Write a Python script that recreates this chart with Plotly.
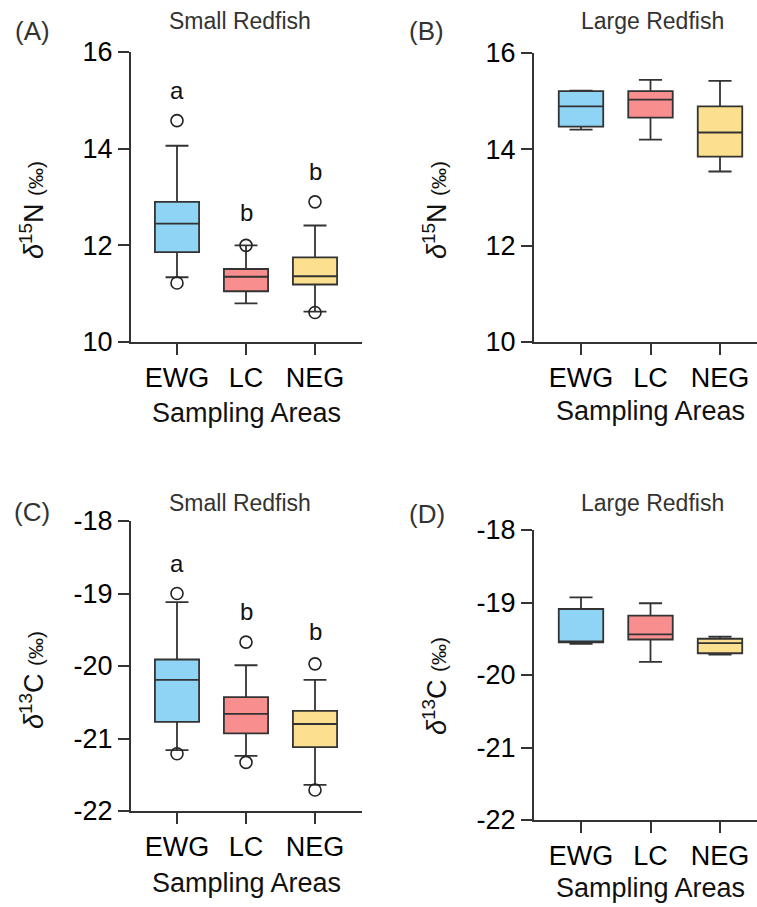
import plotly.graph_objects as go

areas = ["EWG", "LC", "NEG"]
colors = ["#8FD4F4", "#F98E8E", "#FDE08F"]

# Panel A: small redfish d15N
A_q1 = [11.86, 11.05, 11.19]
A_med = [12.45, 11.35, 11.36]
A_q3 = [12.90, 11.51, 11.75]
A_lo = [11.34, 10.80, 10.63]
A_hi = [14.06, 12.00, 12.41]
A_out_x = [0, 0, 1, 2, 2]
A_out_y = [14.58, 11.22, 12.00, 12.90, 10.61]
A_letters = ["a", "b", "b"]
A_letter_y = [15.2, 12.67, 13.52]

# Panel B: large redfish d15N
B_q1 = [14.47, 14.66, 13.85]
B_med = [14.89, 15.03, 14.35]
B_q3 = [15.21, 15.21, 14.89]
B_lo = [14.41, 14.20, 13.54]
B_hi = [15.22, 15.44, 15.42]

# Panel C: small redfish d13C
C_q1 = [-20.77, -20.93, -21.12]
C_med = [-20.19, -20.66, -20.80]
C_q3 = [-19.91, -20.43, -20.62]
C_lo = [-21.16, -21.24, -21.64]
C_hi = [-19.12, -19.99, -20.19]
C_out_x = [0, 0, 1, 1, 2, 2]
C_out_y = [-19.00, -21.21, -19.67, -21.33, -19.97, -21.71]
C_letters = ["a", "b", "b"]
C_letter_y = [-18.59, -19.25, -19.52]

# Panel D: large redfish d13C
D_q1 = [-19.55, -19.51, -19.70]
D_med = [-19.55, -19.44, -19.56]
D_q3 = [-19.09, -19.18, -19.50]
D_lo = [-19.57, -19.82, -19.72]
D_hi = [-18.93, -19.01, -19.47]

N_ticks = [10, 12, 14, 16]
C_ticks = [-22, -21, -20, -19, -18]
N_ticktext = ["10", "12", "14", "16"]
C_ticktext = ["-22", "-21", "-20", "-19", "-18"]

W, H = 757, 907
def px(x):
    return x / W
def py(y):
    return 1 - y / H

FONT = "Liberation Sans, Arial, sans-serif"
LINE = "#333333"

fig = go.Figure()

panels = [
    (A_q1, A_med, A_q3, A_lo, A_hi, A_out_x, A_out_y, "x", "y"),
    (B_q1, B_med, B_q3, B_lo, B_hi, [], [], "x2", "y2"),
    (C_q1, C_med, C_q3, C_lo, C_hi, C_out_x, C_out_y, "x3", "y3"),
    (D_q1, D_med, D_q3, D_lo, D_hi, [], [], "x4", "y4"),
]

for q1, med, q3, lo, hi, ox, oy, xa, ya in panels:
    for i in range(3):
        fig.add_trace(go.Box(
            x=[i], q1=[q1[i]], median=[med[i]], q3=[q3[i]],
            lowerfence=[lo[i]], upperfence=[hi[i]],
            width=0.64, whiskerwidth=0.52, fillcolor=colors[i],
            line=dict(color=LINE, width=1.8), boxpoints=False,
            xaxis=xa, yaxis=ya, showlegend=False, hoverinfo="skip"))
    if ox:
        fig.add_trace(go.Scatter(
            x=ox, y=oy, mode="markers",
            marker=dict(symbol="circle-open", size=12, color="#222222",
                        line=dict(width=1.6)),
            xaxis=xa, yaxis=ya, showlegend=False, hoverinfo="skip"))

axis_common = dict(showline=True, linecolor=LINE, linewidth=2, ticks="outside",
                   ticklen=11, tickwidth=2, tickcolor=LINE, showgrid=False,
                   zeroline=False, automargin=False,
                   tickfont=dict(family=FONT, size=27, color="#000000"))

xA = [px(131), px(362)]
xB = [px(534), px(757)]
rA = [-(177 - 131) / 69.0, (362 - 177) / 69.0]
rB = [-(581 - 534) / 69.5, (757 - 581) / 69.5]

fig.update_layout(
    width=W, height=H, margin=dict(l=0, r=0, t=0, b=0, autoexpand=False),
    paper_bgcolor="white", plot_bgcolor="white",
    xaxis=dict(domain=xA, range=rA, tickvals=[0, 1, 2], ticktext=areas, anchor="y", **axis_common),
    yaxis=dict(domain=[py(342), py(52)], range=[10, 16], tickvals=N_ticks, ticktext=N_ticktext, anchor="x", **axis_common),
    xaxis2=dict(domain=xB, range=rB, tickvals=[0, 1, 2], ticktext=areas, anchor="y2", **axis_common),
    yaxis2=dict(domain=[py(342), py(53)], range=[10, 16], tickvals=N_ticks, ticktext=N_ticktext, anchor="x2", **axis_common),
    xaxis3=dict(domain=xA, range=rA, tickvals=[0, 1, 2], ticktext=areas, anchor="y3", **axis_common),
    yaxis3=dict(domain=[py(811), py(521)], range=[-22, -18], tickvals=C_ticks, ticktext=C_ticktext, anchor="x3", **axis_common),
    xaxis4=dict(domain=xB, range=rB, tickvals=[0, 1, 2], ticktext=areas, anchor="y4", **axis_common),
    yaxis4=dict(domain=[py(820), py(530)], range=[-22, -18], tickvals=C_ticks, ticktext=C_ticktext, anchor="x4", **axis_common),
)

ann = []
def text(x, y, s, size, color="#222222", angle=0):
    ann.append(dict(x=px(x), y=py(y), xref="paper", yref="paper", text=s, showarrow=False,
                    font=dict(family=FONT, size=size, color=color), textangle=angle,
                    xanchor="center", yanchor="middle"))

text(32, 31, "(A)", 26, "#333333")
text(426, 31, "(B)", 26, "#333333")
text(32, 512, "(C)", 26, "#333333")
text(427, 514, "(D)", 26, "#333333")
text(240, 21, "Small Redfish", 23, "#333333")
text(652, 21, "Large Redfish", 23, "#333333")
text(240, 503, "Small Redfish", 23, "#333333")
text(652, 503, "Large Redfish", 23, "#333333")
text(246, 413, "Sampling Areas", 27, "#111111")
text(650, 411, "Sampling Areas", 27, "#111111")
text(246, 883, "Sampling Areas", 27, "#111111")
text(650, 888, "Sampling Areas", 27, "#111111")

tN = "<i>δ</i><sup>15</sup>N <span style='font-size:21px'>(‰)</span>"
tC = "<i>δ</i><sup>13</sup>C <span style='font-size:21px'>(‰)</span>"
text(32, 210, tN, 27, "#111111", -90)
text(435, 210, tN, 27, "#111111", -90)
text(32, 680, tC, 27, "#111111", -90)
text(435, 686, tC, 27, "#111111", -90)

for i in range(3):
    ann.append(dict(x=i, y=A_letter_y[i], xref="x", yref="y", text=A_letters[i], showarrow=False,
                    font=dict(family=FONT, size=24, color="#111111")))
    ann.append(dict(x=i, y=C_letter_y[i], xref="x3", yref="y3", text=C_letters[i], showarrow=False,
                    font=dict(family=FONT, size=24, color="#111111")))

fig.update_layout(annotations=ann)
fig.write_html("out.html")
